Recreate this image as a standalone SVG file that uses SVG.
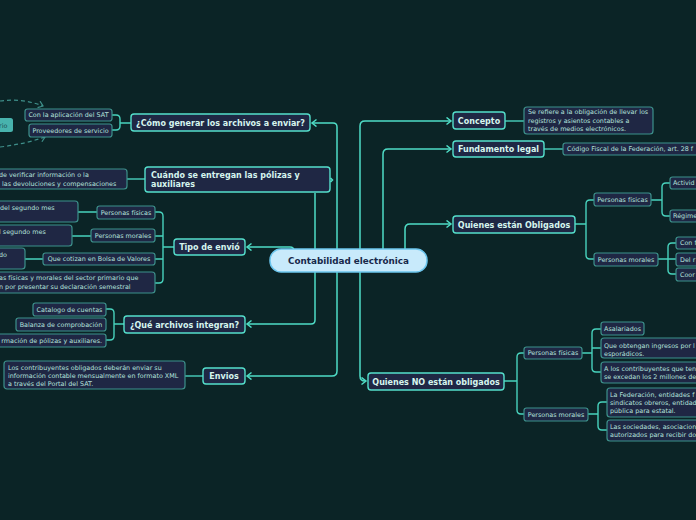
<svg xmlns="http://www.w3.org/2000/svg" width="696" height="520" viewBox="0 0 696 520">
<defs>
<marker id="arr" markerUnits="userSpaceOnUse" markerWidth="10" markerHeight="10" refX="5" refY="4" orient="auto">
<path d="M0.5,0.5 L5,4 L0.5,7.5" fill="none" stroke="#4fdcc6" stroke-width="1.5"/>
</marker>
<marker id="arrd" markerUnits="userSpaceOnUse" markerWidth="10" markerHeight="10" refX="5" refY="4" orient="auto">
<path d="M0.5,0.5 L5,4 L0.5,7.5" fill="none" stroke="#3f8f8a" stroke-width="1.2"/>
</marker>
</defs>
<style>
.bg{fill:#0b2426}
.main{fill:#1f2744;stroke:#55e0cc;stroke-width:1.4}
.sub{fill:#1f2744;stroke:#3d918b;stroke-width:1.2}
.ctr{fill:#c8eafb;stroke:#6cc6ee;stroke-width:1.5}
.tm{font-family:"DejaVu Sans",sans-serif;font-weight:bold;font-size:8px;fill:#d6f5ee}
.tc{font-family:"DejaVu Sans",sans-serif;font-weight:bold;font-size:8.8px;fill:#17284a}
.ts{font-family:"DejaVu Sans",sans-serif;font-size:6.4px;fill:#b4e2dc}
.mid{text-anchor:middle}
.end{text-anchor:end}
.con{fill:none;stroke:#4fdcc6;stroke-width:1.5}
.br{fill:none;stroke:#48d2bd;stroke-width:1.4}
.rel{fill:none;stroke:#3f8f8a;stroke-width:1.2;stroke-dasharray:4 3}
</style>
<rect class="bg" x="0" y="0" width="696" height="520"/>

<g id="connectors">
<path class="con" d="M337,250 V127 Q337,123 333,123 H312" marker-end="url(#arr)"/>
<path class="con" d="M337,272 V371 Q337,376 332,376 H247" marker-end="url(#arr)"/>
<path class="con" d="M315,250 V193"/>
<path class="con" d="M330.5,178 L332.5,180 L330.5,182"/>
<path class="con" d="M315,272 V320 Q315,324 311,324 H247" marker-end="url(#arr)"/>
<path class="con" d="M294,251 Q294,247 290,247 H247" marker-end="url(#arr)"/>
<path class="con" d="M360,250 V126 Q360,121 365,121 H451" marker-end="url(#arr)"/>
<path class="con" d="M360,272 V376 Q360,381 365,381 H366" marker-end="url(#arr)"/>
<path class="con" d="M383,250 V154 Q383,149 388,149 H451" marker-end="url(#arr)"/>
<path class="con" d="M405,250 V229 Q405,224 410,224 H451" marker-end="url(#arr)"/>
<path class="br" d="M131,123 H120 M112,115 H116 Q120,115 120,119 V126 Q120,130 116,130 H112"/>
<path class="br" d="M127,179 H145"/>
<path class="br" d="M174,247 H163 M155,212 H159 Q163,212 163,216 V279 Q163,283 159,283 H155 M155,236 H163 M155,259 H163"/>
<path class="br" d="M78,212 H97 M72,236 H91 M25,259 H43"/>
<path class="br" d="M124,324 H114 M106,309 H110 Q114,309 114,313 V336 Q114,340 110,340 H106"/>
<path class="br" d="M185,376 H203"/>
<path class="br" d="M505,121 H524"/>
<path class="br" d="M544,149 H563"/>
<path class="br" d="M575,224 H586 M594,200 H590 Q586,200 586,204 V255 Q586,259 590,259 H594"/>
<path class="br" d="M651,200 H662 M670,183 H666 Q662,183 662,187 V212 Q662,216 666,216 H670"/>
<path class="br" d="M658,259 H668 M676,243 H672 Q668,243 668,247 V270 Q668,274 672,274 H676 M668,259 H676"/>
<path class="br" d="M504,381 H517 M524,353 H521 Q517,353 517,357 V410 Q517,414 521,414 H524"/>
<path class="br" d="M582,353 H592 M601,329 H596 Q592,329 592,333 V368 Q592,372 596,372 H601 M592,348 H601"/>
<path class="br" d="M588,414 H598 M607,402 H602 Q598,402 598,406 V426 Q598,430 602,430 H607"/>
<path class="rel" d="M0,101 Q22,98 43,106" marker-end="url(#arrd)"/>
<path class="rel" d="M0,147 Q25,144 45,137" marker-end="url(#arrd)"/>
</g>

<g id="center">
<rect class="ctr" x="270" y="249" width="157" height="23" rx="11"/>
<text class="tc mid" x="348.5" y="264">Contabilidad electrónica</text>
</g>

<g id="como">
<rect class="main" x="131" y="114" width="179" height="17" rx="3"/>
<text class="tm mid" x="220.5" y="125.5">¿Cómo generar los archivos a enviar?</text>
</g>
<g id="como-app">
<rect class="sub" x="25" y="109" width="87" height="12" rx="2.5"/>
<text class="ts mid" x="68.5" y="117.3">Con la aplicación del SAT</text>
</g>
<g id="como-prov">
<rect class="sub" x="29" y="124" width="83" height="13" rx="2.5"/>
<text class="ts mid" x="70.5" y="132.8">Proveedores de servicio</text>
</g>
<g id="usuario">
<rect x="-10" y="118" width="23" height="14" rx="2.5" fill="#48b3ad"/>
<text class="ts" x="-1" y="127.5" style="fill:#1c4a4e">rio</text>
</g>

<g id="cuando">
<rect class="main" x="145" y="167" width="185" height="25" rx="3"/>
<text class="tm" x="151" y="177.5">Cuándo se entregan las pólizas y</text>
<text class="tm" x="151" y="187">auxiliares</text>
</g>
<g id="cuando-sub">
<rect class="sub" x="-10" y="169" width="137" height="20" rx="3"/>
<text class="ts" x="-1" y="177.3">de verificar información o la</text>
<text class="ts" x="2" y="186">las devoluciones y compensaciones</text>
</g>

<g id="tipo">
<rect class="main" x="174" y="239" width="71" height="16" rx="3"/>
<text class="tm mid" x="209.5" y="250">Tipo de envió</text>
</g>
<g id="tipo-fis">
<rect class="sub" x="97" y="206" width="58" height="13" rx="2.5"/>
<text class="ts mid" x="126" y="214.6">Personas físicas</text>
</g>
<g id="tipo-mor">
<rect class="sub" x="91" y="229" width="64" height="13" rx="2.5"/>
<text class="ts mid" x="123" y="237.6">Personas morales</text>
</g>
<g id="tipo-bolsa">
<rect class="sub" x="43" y="253" width="112" height="12" rx="2.5"/>
<text class="ts mid" x="99" y="261.3">Que cotizan en Bolsa de Valores</text>
</g>
<g id="tipo-prim">
<rect class="sub" x="-10" y="272" width="165" height="21" rx="3"/>
<text class="ts" x="-1" y="280.3">as físicas y morales del sector primario que</text>
<text class="ts" x="-1" y="288.8">n por presentar su declaración semestral</text>
</g>
<g id="tipo-fis-d">
<rect class="sub" x="-10" y="201" width="88" height="21" rx="3"/>
<text class="ts" x="0" y="210.3">del segundo mes</text>
</g>
<g id="tipo-mor-d">
<rect class="sub" x="-10" y="225" width="82" height="21" rx="3"/>
<text class="ts" x="-1" y="233.6">l segundo mes</text>
</g>
<g id="tipo-bolsa-d">
<rect class="sub" x="-10" y="248" width="35" height="21" rx="3"/>
<text class="ts" x="-1" y="256.6">do</text>
</g>

<g id="que">
<rect class="main" x="124" y="316" width="121" height="17" rx="3"/>
<text class="tm mid" x="184.5" y="327.5">¿Qué archivos integran?</text>
</g>
<g id="que-cat">
<rect class="sub" x="33" y="303" width="73" height="13" rx="2.5"/>
<text class="ts mid" x="69.5" y="311.8">Catalogo de cuentas</text>
</g>
<g id="que-bal">
<rect class="sub" x="16" y="318" width="90" height="13" rx="2.5"/>
<text class="ts mid" x="61" y="326.8">Balanza de comprobación</text>
</g>
<g id="que-pol">
<rect class="sub" x="-10" y="334" width="116" height="13" rx="2.5"/>
<text class="ts end" x="102" y="342.8">rmación de pólizas y auxiliares.</text>
</g>

<g id="envios">
<rect class="main" x="203" y="368" width="42" height="16" rx="3"/>
<text class="tm mid" x="224" y="379">Envios</text>
</g>
<g id="envios-sub">
<rect class="sub" x="4" y="361" width="181" height="28" rx="3"/>
<text class="ts" x="8" y="369.5">Los contribuyentes obligados deberán enviar su</text>
<text class="ts" x="8" y="378">información contable mensualmente en formato XML</text>
<text class="ts" x="8" y="386.3">a través del Portal del SAT.</text>
</g>

<g id="concepto">
<rect class="main" x="453" y="112" width="52" height="17" rx="3"/>
<text class="tm mid" x="479" y="123.5">Concepto</text>
</g>
<g id="concepto-sub">
<rect class="sub" x="524" y="107" width="129" height="27" rx="3"/>
<text class="ts" x="528" y="114.3">Se refiere a la obligación de llevar los</text>
<text class="ts" x="528" y="122.7">registros y asientos contables a</text>
<text class="ts" x="528" y="131">través de medios electrónicos.</text>
</g>

<g id="fundamento">
<rect class="main" x="453" y="141" width="91" height="16" rx="3"/>
<text class="tm mid" x="498.5" y="152">Fundamento legal</text>
</g>
<g id="fundamento-sub">
<rect class="sub" x="563" y="143" width="145" height="12" rx="2.5"/>
<text class="ts" x="567" y="151.3">Código Fiscal de la Federación, art. 28 f</text>
</g>

<g id="obligados">
<rect class="main" x="453" y="216" width="122" height="17" rx="3"/>
<text class="tm mid" x="514" y="227.5">Quienes están Obligados</text>
</g>
<g id="obl-fis">
<rect class="sub" x="594" y="193" width="57" height="13" rx="2.5"/>
<text class="ts mid" x="622.5" y="201.8">Personas físicas</text>
</g>
<g id="obl-mor">
<rect class="sub" x="594" y="253" width="64" height="13" rx="2.5"/>
<text class="ts mid" x="626" y="261.8">Personas morales</text>
</g>
<g id="obl-fis-1">
<rect class="sub" x="670" y="177" width="40" height="12" rx="2.5"/>
<text class="ts" x="673" y="185.3">Activid</text>
</g>
<g id="obl-fis-2">
<rect class="sub" x="670" y="210" width="40" height="12" rx="2.5"/>
<text class="ts" x="673" y="218.3">Régime</text>
</g>
<g id="obl-mor-1">
<rect class="sub" x="676" y="237" width="30" height="12" rx="2.5"/>
<text class="ts" x="680" y="245.3">Con f</text>
</g>
<g id="obl-mor-2">
<rect class="sub" x="676" y="253" width="30" height="13" rx="2.5"/>
<text class="ts" x="680" y="261.8">Del r</text>
</g>
<g id="obl-mor-3">
<rect class="sub" x="676" y="268" width="30" height="13" rx="2.5"/>
<text class="ts" x="680" y="276.8">Coor</text>
</g>

<g id="no-obligados">
<rect class="main" x="368" y="373" width="136" height="17" rx="3"/>
<text class="tm mid" x="436" y="384.5">Quienes NO están obligados</text>
</g>
<g id="no-fis">
<rect class="sub" x="524" y="347" width="58" height="12" rx="2.5"/>
<text class="ts mid" x="553" y="355.3">Personas físicas</text>
</g>
<g id="no-mor">
<rect class="sub" x="524" y="408" width="64" height="13" rx="2.5"/>
<text class="ts mid" x="556" y="416.8">Personas morales</text>
</g>
<g id="no-fis-1">
<rect class="sub" x="601" y="322" width="43" height="13" rx="2.5"/>
<text class="ts mid" x="622.5" y="330.8">Asalariados</text>
</g>
<g id="no-fis-2">
<rect class="sub" x="601" y="338" width="110" height="20" rx="3"/>
<text class="ts" x="604" y="347.8">Que obtengan ingresos por l</text>
<text class="ts" x="604" y="355.6">esporádicos.</text>
</g>
<g id="no-fis-3">
<rect class="sub" x="601" y="362" width="110" height="21" rx="3"/>
<text class="ts" x="604" y="370.6">A los contribuyentes que ten</text>
<text class="ts" x="604" y="379">se excedan los 2 millones de</text>
</g>
<g id="no-mor-1">
<rect class="sub" x="607" y="388" width="100" height="29" rx="3"/>
<text class="ts" x="610" y="397.3">La Federación, entidades f</text>
<text class="ts" x="610" y="405.3">sindicatos obreros, entidad</text>
<text class="ts" x="610" y="413">pública para estatal.</text>
</g>
<g id="no-mor-2">
<rect class="sub" x="607" y="420" width="100" height="21" rx="3"/>
<text class="ts" x="610" y="429">Las sociedades, asociacion</text>
<text class="ts" x="610" y="436.7">autorizados para recibir do</text>
</g>
</svg>
